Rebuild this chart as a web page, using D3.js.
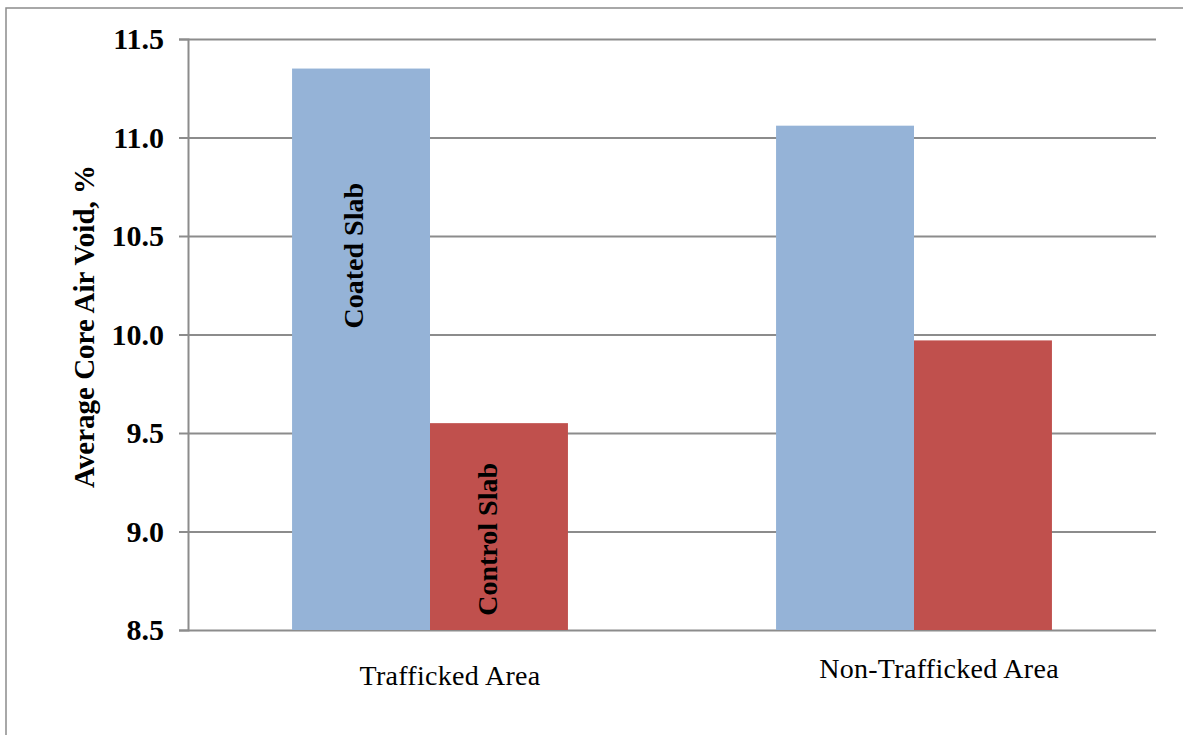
<!DOCTYPE html>
<html>
<head>
<meta charset="utf-8">
<script src="https://cdn.jsdelivr.net/npm/d3@7"></script>
<style>
  body { margin: 0; background: #fff; }
  svg { display: block; }
  text { font-family: "Liberation Serif", "Times New Roman", serif; fill: #000; }
</style>
</head>
<body>
<svg id="chart"></svg>
<script>
"use strict";
// data
var areas = ["Trafficked Area", "Non-Trafficked Area"];
var slabs = ["Coated Slab", "Control Slab"];
var coated = [11.35, 11.06];
var control = [9.55, 9.97];
var yTicks = [8.5, 9.0, 9.5, 10.0, 10.5, 11.0, 11.5];
// where the in-bar labels sit (value units), only on the first group
var slabLabelAt = [10.4, 8.96];

function chart(idname, {
  width = 1183,
  height = 735,
  marginTop = 39,
  marginRight = 27,
  marginBottom = 105,
  marginLeft = 188,
} = {}) {
  var svg = d3.select(`#${idname}`)
    .attr("width", width)
    .attr("height", height);

  // outer frame
  svg.append("rect")
    .attr("x", 6)
    .attr("y", 8)
    .attr("width", width)
    .attr("height", height)
    .attr("fill", "none")
    .attr("stroke", "#8c8c8c")
    .attr("stroke-width", 1.5);

  var data = areas.map((a, i) => ({ area: a, values: [coated[i], control[i]] }));

  var x0 = d3.scaleBand()
    .domain(areas)
    .range([marginLeft, width - marginRight])
    .paddingInner(0.43)
    .paddingOuter(0.215);
  var x1 = d3.scaleBand()
    .domain(slabs)
    .range([0, x0.bandwidth()]);
  var y = d3.scaleLinear()
    .domain([8.5, 11.5])
    .range([height - marginBottom, marginTop]);
  var color = d3.scaleOrdinal().domain(slabs).range(["#95b3d7", "#c0504d"]);

  // y axis + gridlines
  var yAxis = d3.axisLeft(y)
    .tickValues(yTicks)
    .tickFormat(d3.format(".1f"))
    .tickSize(9)
    .tickPadding(15);
  svg.append("g")
    .attr("transform", `translate(${marginLeft},0)`)
    .call(yAxis)
    .call((g) => g.select(".domain").attr("stroke", "#8c8c8c").attr("stroke-width", 2))
    .call((g) => g.selectAll(".tick line").attr("stroke", "#8c8c8c").attr("stroke-width", 2))
    .call((g) => g.selectAll(".tick line")
      .clone()
      .attr("x1", 0)
      .attr("x2", width - marginRight - marginLeft)
      .attr("stroke", "#8c8c8c")
      .attr("stroke-width", 2))
    .call((g) => g.selectAll(".tick text")
      .style("font-family", "'Liberation Serif', serif")
      .style("font-size", "30px")
      .style("font-weight", "bold")
      .attr("fill", "#000"));

  // bars
  var groups = svg.append("g")
    .selectAll("g")
    .data(data)
    .enter()
    .append("g")
    .attr("transform", (d) => `translate(${x0(d.area)},0)`);
  groups.selectAll("rect")
    .data((d) => d.values.map((v, j) => ({ slab: slabs[j], value: v })))
    .enter()
    .append("rect")
    .attr("x", (d) => x1(d.slab))
    .attr("y", (d) => y(d.value))
    .attr("width", x1.bandwidth())
    .attr("height", (d) => y(8.5) - y(d.value))
    .attr("fill", (d) => color(d.slab));

  // in-bar labels on the first group
  slabs.forEach((s, j) => {
    var cx = x0(areas[0]) + x1(s) + x1.bandwidth() / 2;
    var cy = y(slabLabelAt[j]);
    svg.append("text")
      .attr("transform", `translate(${cx + 2 - j * 4},${cy}) rotate(-90)`)
      .style("text-anchor", "middle")
      .style("font-size", "28px")
      .style("font-weight", "bold")
      .text(s);
  });

  // category labels
  svg.append("g")
    .selectAll("text")
    .data(areas)
    .enter()
    .append("text")
    .attr("x", (d) => x0(d) + x0.bandwidth() / 2 + (d === areas[0] ? 20 : 25))
    .attr("y", (d, i) => (i === 0 ? 685 : 678))
    .style("text-anchor", "middle")
    .style("font-size", "28px")
    .style("letter-spacing", "0.3px")
    .text((d) => d);

  // y axis title
  svg.append("text")
    .attr("transform", `translate(94,${(marginTop + height - marginBottom) / 2 - 8}) rotate(-90)`)
    .style("text-anchor", "middle")
    .style("font-size", "29px")
    .style("font-weight", "bold")
    .text("Average Core Air Void, %");

  return svg.node();
}

chart("chart");
</script>
</body>
</html>
